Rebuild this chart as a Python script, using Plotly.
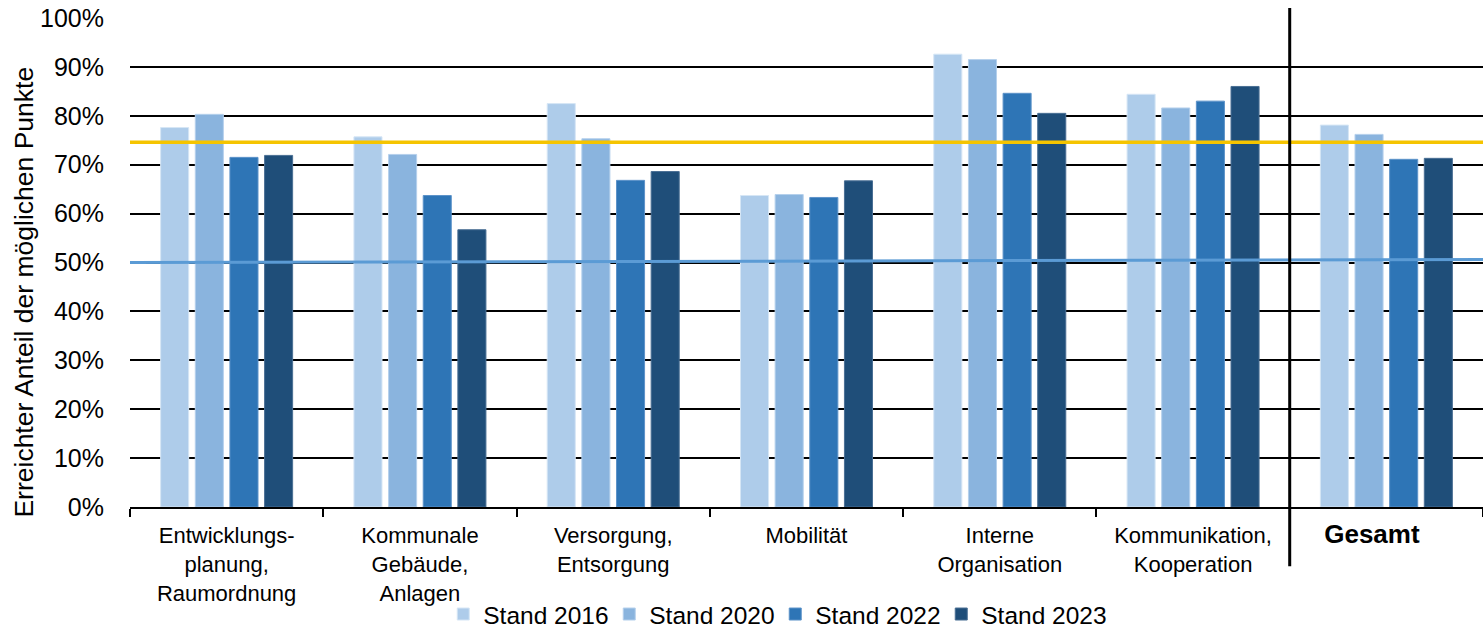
import plotly.graph_objects as go

categories = ["Entwicklungs-<br>planung,<br>Raumordnung", "Kommunale<br>Gebäude,<br>Anlagen",
              "Versorgung,<br>Entsorgung", "Mobilität", "Interne<br>Organisation",
              "Kommunikation,<br>Kooperation",
              "<span style='font-size:26px'><b>Gesamt</b>&nbsp;&nbsp;&nbsp;&nbsp;</span>"]
series_names = ["Stand 2016", "Stand 2020", "Stand 2022", "Stand 2023"]
stand_2016 = [0.776, 0.757, 0.825, 0.637, 0.926, 0.844, 0.781]
stand_2020 = [0.803, 0.721, 0.753, 0.639, 0.915, 0.816, 0.762]
stand_2022 = [0.715, 0.637, 0.668, 0.633, 0.846, 0.830, 0.711]
stand_2023 = [0.719, 0.567, 0.686, 0.667, 0.805, 0.860, 0.713]
yellow_line = 0.746
blue_line_start, blue_line_end = 0.500, 0.506
y_ticks = [0, 0.1, 0.2, 0.3, 0.4, 0.5, 0.6, 0.7, 0.8, 0.9, 1.0]
y_title = "Erreichter Anteil der möglichen Punkte"

colors = ["#AECCEA", "#8AB4DE", "#2E75B6", "#1F4E79"]
edges = ["#D6E6F5", "#B5D0EC", "#5D93C9", "#4A6F94"]

fig = go.Figure()
for name, vals, c, e in zip(series_names, [stand_2016, stand_2020, stand_2022, stand_2023], colors, edges):
    fig.add_trace(go.Bar(x=categories, y=vals, name=name, marker=dict(color=c, line=dict(color=e, width=1))))

fig.add_shape(type="line", xref="paper", yref="y", x0=0, x1=1, y0=blue_line_start, y1=blue_line_end,
              line=dict(color="#5B9BD5", width=3), layer="above")
fig.add_shape(type="line", xref="paper", yref="y", x0=0, x1=1, y0=yellow_line, y1=yellow_line,
              line=dict(color="#F5C400", width=3.5), layer="above")
fig.add_shape(type="line", xref="x", yref="paper", x0=5.5, x1=5.5, y0=-0.121, y1=1.0205,
              line=dict(color="black", width=3), layer="above")

fig.add_annotation(text=y_title, textangle=-90, xref="paper", yref="paper", x=0, xshift=-106,
                   y=0.4385, xanchor="center", yanchor="middle", showarrow=False,
                   font=dict(size=26.5, color="black"))

fig.update_layout(
    width=1483, height=637,
    margin=dict(l=130, r=0, t=18, b=125),
    paper_bgcolor="white", plot_bgcolor="white",
    barmode="group", bargap=0.283, bargroupgap=0.19,
    font=dict(family="Liberation Sans, Arial", size=22, color="black"),
    showlegend=True,
    legend=dict(orientation="h", x=0.4769, xanchor="center", y=-0.219, yanchor="middle",
                font=dict(size=24.5), itemwidth=30, tracegroupgap=0, traceorder="normal",
                entrywidth=121, entrywidthmode="pixels", bgcolor="rgba(0,0,0,0)"),
    xaxis=dict(type="category", range=[-0.5, 6.5], automargin=False,
               showline=True, linecolor="black", linewidth=2,
               ticks="outside", tickson="boundaries", ticklen=8, tickcolor="black", tickwidth=1.5,
               showgrid=False, tickfont=dict(size=22), ticklabelstandoff=8),
    yaxis=dict(range=[0, 1], tickvals=y_ticks, tickformat=".0%", showgrid=True, automargin=False,
               gridcolor="black", gridwidth=1.5, zeroline=False, showline=False,
               tickfont=dict(size=25), ticklabelstandoff=25),
)
fig.write_html("out.html", config={"displayModeBar": False},
               post_script="document.body.style.margin='0';document.body.style.overflow='hidden';")
